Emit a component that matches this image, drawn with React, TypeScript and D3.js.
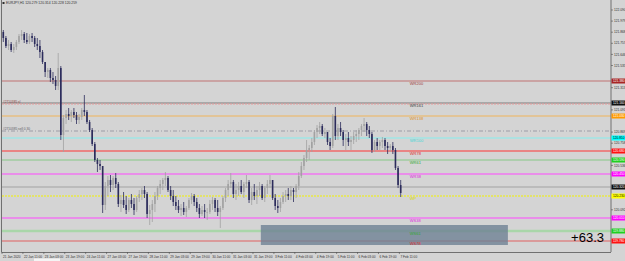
import * as d3 from "d3";

// EURJPY H1, drawn here as 2-hour candles (index k covers hours 2k..2k+2 from 21 Jan 19:00)
const title = "EURJPY,H1  120.279 120.314 120.228 120.259";
const firstOpen = 121.87;

const highs = [
  121.89, 121.83, 121.79, 121.77, 121.75, 121.79, 121.85, 121.89, 121.87, 121.86,
  121.85, 121.86, 121.83, 121.81, 121.79, 121.69, 121.57, 121.51, 121.51, 121.47,
  121.43, 121.66, 121.53, 121.04, 121.09, 121.11, 121.09, 121.11, 121.07, 121.05,
  121.11, 121.24, 121.09, 120.99, 120.91, 120.77, 120.61, 120.59, 120.53, 120.37,
  120.43, 120.44, 120.43, 120.46, 120.37, 120.24, 120.27, 120.23, 120.21, 120.25,
  120.21, 120.23, 120.29, 120.31, 120.33, 120.27, 120.14, 120.19, 120.27, 120.33,
  120.39, 120.41, 120.47, 120.43, 120.33, 120.29, 120.23, 120.19, 120.15, 120.17,
  120.13, 120.21, 120.26, 120.25, 120.21, 120.15, 120.13, 120.15, 120.11, 120.19,
  120.22, 120.21, 120.19, 120.13, 120.23, 120.31, 120.39, 120.46, 120.39, 120.35,
  120.37, 120.39, 120.37, 120.44, 120.39, 120.31, 120.35, 120.33, 120.37, 120.35,
  120.33, 120.39, 120.44, 120.39, 120.25, 120.19, 120.21, 120.27, 120.29, 120.31,
  120.33, 120.31, 120.35, 120.47, 120.57, 120.64, 120.79, 120.74, 120.81, 120.89,
  120.94, 120.97, 120.95, 120.91, 120.87, 120.81, 121.05, 121.12, 120.95, 120.97,
  120.89, 120.85, 120.87, 120.83, 120.87, 120.89, 120.91, 120.95, 121.01, 120.97,
  120.93, 120.87, 120.79, 120.81, 120.79, 120.82, 120.81, 120.77, 120.75, 120.77,
  120.71, 120.53, 120.39,
];
const lows = [
  121.77, 121.71, 121.69, 121.67, 121.66, 121.69, 121.75, 121.79, 121.76, 121.75,
  121.75, 121.77, 121.72, 121.69, 121.61, 121.55, 121.42, 121.41, 121.37, 121.35,
  121.29, 121.29, 120.79, 120.67, 120.95, 120.99, 120.97, 121.01, 120.95, 120.95,
  120.99, 121.03, 120.95, 120.87, 120.73, 120.57, 120.47, 120.49, 120.06, 120.09,
  120.23, 120.27, 120.29, 120.31, 120.12, 120.07, 120.11, 120.05, 120.07, 120.11,
  120.04, 120.07, 120.17, 120.19, 120.21, 120.01, 119.94, 119.97, 120.07, 120.19,
  120.25, 120.29, 120.33, 120.27, 120.19, 120.13, 120.09, 120.06, 120.03, 120.04,
  120.02, 120.09, 120.15, 120.13, 120.07, 120.01, 120.03, 120.01, 119.99, 120.05,
  120.09, 120.07, 120.03, 119.91, 120.09, 120.17, 120.23, 120.31, 120.21, 120.19,
  120.23, 120.25, 120.21, 120.31, 120.16, 120.14, 120.19, 120.15, 120.23, 120.19,
  120.17, 120.25, 120.31, 120.19, 120.09, 120.06, 120.07, 120.15, 120.17, 120.19,
  120.19, 120.17, 120.21, 120.29, 120.41, 120.49, 120.57, 120.59, 120.67, 120.74,
  120.81, 120.85, 120.83, 120.81, 120.74, 120.69, 120.71, 120.79, 120.79, 120.83,
  120.73, 120.69, 120.73, 120.69, 120.75, 120.77, 120.79, 120.83, 120.87, 120.83,
  120.81, 120.66, 120.67, 120.69, 120.69, 120.71, 120.69, 120.65, 120.67, 120.65,
  120.49, 120.31, 120.22,
];
const closes = [
  121.81, 121.73, 121.75, 121.69, 121.72, 121.77, 121.83, 121.85, 121.79, 121.77,
  121.83, 121.81, 121.75, 121.73, 121.67, 121.57, 121.47, 121.49, 121.41, 121.39,
  121.33, 121.51, 120.84, 121.01, 121.05, 121.03, 121.07, 121.04, 120.99, 121.02,
  121.09, 121.07, 120.97, 120.89, 120.75, 120.59, 120.55, 120.53, 120.14, 120.33,
  120.39, 120.34, 120.41, 120.35, 120.15, 120.19, 120.14, 120.09, 120.19, 120.15,
  120.09, 120.21, 120.25, 120.29, 120.25, 120.05, 120.09, 120.15, 120.23, 120.31,
  120.35, 120.39, 120.41, 120.29, 120.23, 120.17, 120.13, 120.09, 120.11, 120.07,
  120.11, 120.19, 120.23, 120.17, 120.11, 120.05, 120.09, 120.07, 120.07, 120.15,
  120.19, 120.11, 120.07, 120.11, 120.21, 120.29, 120.35, 120.37, 120.25, 120.29,
  120.33, 120.27, 120.35, 120.37, 120.19, 120.27, 120.23, 120.29, 120.33, 120.21,
  120.31, 120.35, 120.39, 120.21, 120.13, 120.11, 120.17, 120.23, 120.25, 120.23,
  120.29, 120.27, 120.33, 120.43, 120.53, 120.61, 120.69, 120.71, 120.77, 120.87,
  120.91, 120.93, 120.85, 120.87, 120.77, 120.73, 121.03, 120.83, 120.91, 120.87,
  120.79, 120.81, 120.77, 120.79, 120.83, 120.85, 120.89, 120.93, 120.95, 120.89,
  120.85, 120.69, 120.77, 120.73, 120.77, 120.79, 120.73, 120.71, 120.73, 120.69,
  120.51, 120.34, 120.26,
];

// time axis: a label every 16 hourly bars
const timeLabels = [
  "21 Jan 2020", "22 Jan 11:00", "23 Jan 03:00", "23 Jan 19:00", "24 Jan 11:00",
  "27 Jan 03:00", "27 Jan 19:00", "28 Jan 11:00", "29 Jan 03:00", "29 Jan 19:00",
  "30 Jan 11:00", "31 Jan 03:00", "31 Jan 19:00", "3 Feb 11:00", "4 Feb 03:00",
  "4 Feb 19:00", "5 Feb 11:00", "6 Feb 03:00", "6 Feb 19:00", "7 Feb 11:00",
];

const priceTicks = [
  122.09, 121.979, 121.868, 121.757, 121.646, 121.535, 121.424, 121.313, 121.202, 121.091,
  120.98, 120.869, 120.758, 120.647, 120.536, 120.425, 120.314, 120.203, 120.092, 119.981,
  119.87, 119.759,
];

// weekly fibo pivots
const levelNames = ["WR200", "WR161", "WR138", "WR100", "WR78", "WR61", "WR38", "WP", "WS38", "WS61", "WS78"];
const levelPrices = [121.38, 121.16, 121.03, 120.81, 120.68, 120.59, 120.45, 120.23, 120.01, 119.88, 119.78];

const levelStyle: Record<string, { line: string; tag: string; text: string; w: number; dash?: string }> = {
  WR200: { line: "#c07272", tag: "#a82424", text: "#a03c3c", w: 1 },
  WR161: { line: "#7c7c7c", tag: "#111111", text: "#404040", w: 1 },
  WR138: { line: "#f0b45a", tag: "#ff9a00", text: "#e09020", w: 1 },
  WR100: { line: "#86eeee", tag: "#00ffff", text: "#40d8d8", w: 1 },
  WR78: { line: "#f06a6a", tag: "#ff1010", text: "#e02828", w: 1.5 },
  WR61: { line: "#86c886", tag: "#20d020", text: "#30a830", w: 1 },
  WR38: { line: "#ff48ff", tag: "#ff00ff", text: "#e020e0", w: 1 },
  WP: { line: "#f2f200", tag: "#ffff00", text: "#d8d800", w: 1, dash: "2,1" },
  WS38: { line: "#ff48ff", tag: "#ff00ff", text: "#e020e0", w: 1 },
  WS61: { line: "#a9d6a9", tag: "#20d020", text: "#30a830", w: 2.5 },
  WS78: { line: "#e06060", tag: "#ff1010", text: "#e02828", w: 1 },
};

// open trade
const orderTicket = "#2710385";
const orderOpen = 120.88;
const stopLoss = 121.15;
const otherLine = 120.32;
const profitText = "+63.3";
const boxFrom = 198;
const boxTo = 387;
const boxHigh = 119.94;
const boxLow = 119.74;
const labelHour = 312;

const W = 625;
const H = 261;
const right = 611;
const bottom = 252;

export default function App() {
  const x = d3.scaleLinear().domain([0, 306]).range([2, 402]);
  const y = d3.scaleLinear().domain([119.67, 122.19]).range([bottom, 0]);
  const small = "Liberation Sans, Arial, sans-serif";

  const bars = closes.map((c, k) => {
    const o = k === 0 ? firstOpen : closes[k - 1];
    return { k, o, c, h: Math.max(highs[k], o, c), l: Math.min(lows[k], o, c) };
  });

  const tagPrices = [...levelPrices, otherLine];
  // the coloured tags cover the plain tick labels they sit on
  const freeTicks = priceTicks.filter((p) => tagPrices.every((t) => Math.abs(y(p) - y(t)) > 5));

  const tag = (p: number, fill: string, key: string) => (
    <g key={key}>
      <rect x={right + 0.5} y={y(p) - 2.5} width={20} height={5} fill={fill} />
      <text
        x={right + 2}
        y={y(p) + 1.2}
        fontSize={3.2}
        fontFamily={small}
        fill={fill === "#ffff00" || fill === "#00ffff" ? "#000" : "#fff"}
      >
        {p.toFixed(3)}
      </text>
    </g>
  );

  return (
    <svg width={W} height={H} style={{ position: "fixed", left: 0, top: 0 }}>
      <rect width={W} height={H} fill="#d4d4d4" />

      {/* levels */}
      {levelNames.map((n, i) => {
        const s = levelStyle[n];
        return (
          <line
            key={n}
            x1={2}
            x2={right}
            y1={y(levelPrices[i])}
            y2={y(levelPrices[i])}
            stroke={s.line}
            strokeWidth={s.w}
            strokeDasharray={s.dash}
          />
        );
      })}
      <line x1={2} x2={right} y1={y(otherLine)} y2={y(otherLine)} stroke="#a2a2a2" strokeWidth={1} />
      <line x1={2} x2={right} y1={y(stopLoss)} y2={y(stopLoss)} stroke="#e89a9a" strokeWidth={1} strokeDasharray="2,1" />
      <line x1={2} x2={right} y1={y(orderOpen)} y2={y(orderOpen)} stroke="#9c9ca6" strokeWidth={1} strokeDasharray="4,2,1,2" />
      <text x={3} y={y(stopLoss) - 1.5} fontSize={3.2} fontFamily={small} fill="#8a4040">
        {orderTicket} sl
      </text>
      <text x={3} y={y(orderOpen) - 1.5} fontSize={3.2} fontFamily={small} fill="#606068">
        {orderTicket} sell 0.30
      </text>

      {/* box */}
      <rect
        x={x(boxFrom)}
        y={y(boxHigh)}
        width={x(boxTo) - x(boxFrom)}
        height={y(boxLow) - y(boxHigh)}
        fill="#6e8194"
        fillOpacity={0.8}
      />

      {/* candles */}
      {bars.map((b) => {
        const cx = x(2 * b.k + 1);
        const up = b.c >= b.o;
        const col = up ? "#a2a2a2" : "#2c2c5c";
        const top = y(Math.max(b.o, b.c));
        const ht = Math.max(0.7, Math.abs(y(b.o) - y(b.c)));
        return (
          <g key={b.k}>
            <line x1={cx} x2={cx} y1={y(b.h)} y2={y(b.l)} stroke={col} strokeWidth={0.8} />
            <rect x={cx - 0.8} y={top} width={1.6} height={ht} fill={col} />
          </g>
        );
      })}

      {/* level names */}
      {levelNames.map((n, i) => (
        <text
          key={n + "t"}
          x={x(labelHour)}
          y={y(levelPrices[i]) + 4.2}
          fontSize={4}
          fontFamily={small}
          fill={levelStyle[n].text}
        >
          {n}
        </text>
      ))}

      <text x={604} y={242} textAnchor="end" fontSize={13} fontFamily={small} fill="#000">
        {profitText}
      </text>

      {/* frame & axes */}
      <line x1={1.5} x2={1.5} y1={0} y2={bottom} stroke="#707070" />
      <line x1={right} x2={right} y1={0} y2={bottom} stroke="#707070" />
      <line x1={1.5} x2={right} y1={bottom + 0.5} y2={bottom + 0.5} stroke="#707070" />

      {freeTicks.map((p) => (
        <g key={p}>
          <line x1={right} x2={right + 2} y1={y(p)} y2={y(p)} stroke="#505050" strokeWidth={0.6} />
          <text x={right + 3} y={y(p) + 1.1} fontSize={3.2} fontFamily={small} fill="#303030">
            {p.toFixed(3)}
          </text>
        </g>
      ))}
      {levelNames.map((n, i) => tag(levelPrices[i], levelStyle[n].tag, n + "g"))}
      {tag(otherLine, "#111111", "other")}

      {timeLabels.map((t, j) => (
        <g key={t}>
          <line x1={x(16 * j)} x2={x(16 * j)} y1={bottom} y2={bottom + 2} stroke="#505050" strokeWidth={0.6} />
          <text x={x(16 * j) + 1} y={257.5} fontSize={3.2} fontFamily={small} fill="#303030">
            {t}
          </text>
        </g>
      ))}
      <rect x={34} y={258.5} width={26} height={3} fill="#f4f4f4" />

      {/* title */}
      <rect x={2.5} y={2} width={2} height={2} fill="#303030" />
      <text x={6} y={4.3} fontSize={3.4} fontFamily={small} fill="#303030">
        {title}
      </text>
    </svg>
  );
}
